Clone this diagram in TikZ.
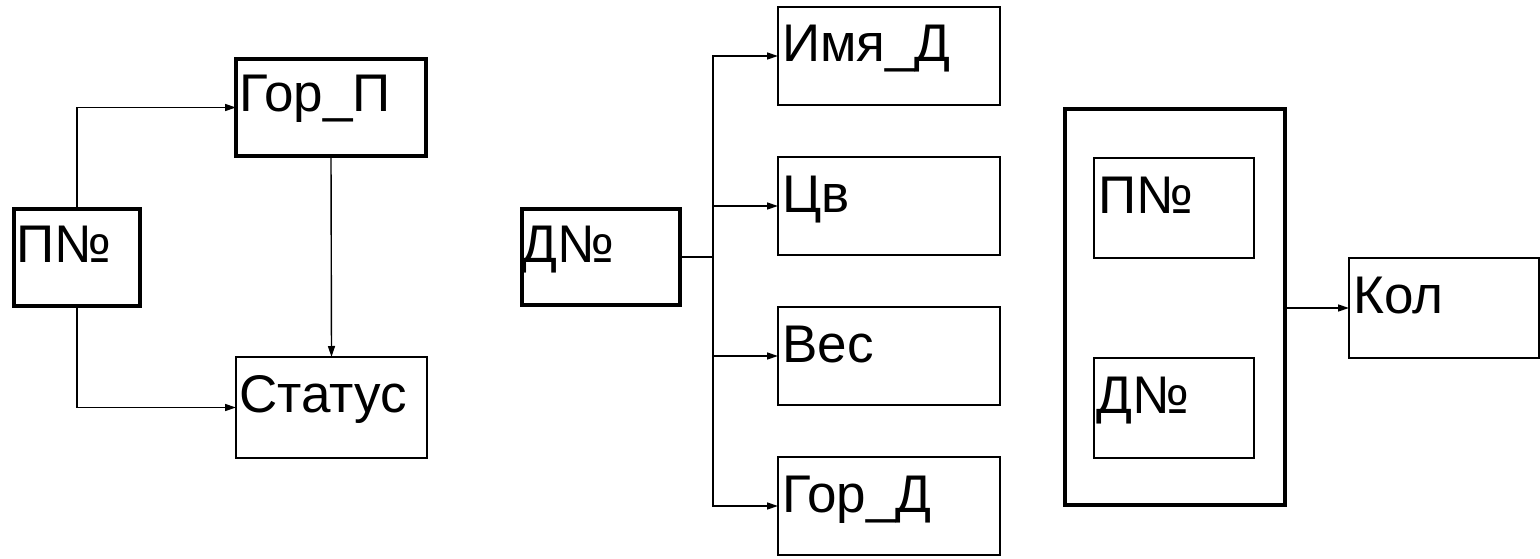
\documentclass[tikz,border=0pt]{standalone}
\usepackage{fontspec}
\setmainfont{Liberation Sans}
\usetikzlibrary{arrows.meta}
\begin{document}
\begin{tikzpicture}[x=1pt,y=-1pt,
  box/.style={draw, line width=1.3pt, inner sep=0pt, outer sep=0pt, anchor=north west},
  thickbox/.style={box, line width=4pt},
  lbl/.style={anchor=base west, inner sep=0pt, font=\fontsize{53}{60}\selectfont},
  arr/.style={line width=1.4pt, -{Triangle[length=11pt,width=7pt]}},
  ln/.style={line width=1.4pt}]
\useasboundingbox (0,0) rectangle (1540,559);
% left group
\node[thickbox, minimum width=126, minimum height=97] (P) at (14,209) {};
\node[thickbox, minimum width=190, minimum height=97] (GorP) at (236,59) {};
\node[box, minimum width=191, minimum height=101] (Stat) at (236,357) {};
\node[lbl] (tP) at ([xshift=2pt,yshift=-53pt]P.north west) {П№};
\node[lbl] (tGorP) at ([xshift=3pt,yshift=-53pt]GorP.north west) {Гор\_П};
\node[lbl] (tStat) at ([xshift=3pt,yshift=-55pt]Stat.north west) {Статус};
\draw[arr] (P.north) |- (GorP.west);
\draw[arr] (P.south) |- (Stat.west);
\draw[arr] (GorP.south) -- (Stat.north);
% middle group
\node[thickbox, minimum width=158, minimum height=96] (D) at (522,209) {};
\node[box, minimum width=222, minimum height=98] (Imya) at (778,7) {};
\node[box, minimum width=222, minimum height=98] (Cv) at (778,157) {};
\node[box, minimum width=222, minimum height=98] (Ves) at (778,307) {};
\node[box, minimum width=222, minimum height=98] (GorD) at (778,457) {};
\node[lbl] (tD) at ([xshift=-1pt,yshift=-53pt]D.north west) {Д№};
\node[lbl] (tImya) at ([xshift=4pt,yshift=-55pt]Imya.north west) {Имя\_Д};
\node[lbl] (tCv) at ([xshift=4pt,yshift=-55pt]Cv.north west) {Цв};
\node[lbl] (tVes) at ([xshift=4pt,yshift=-55pt]Ves.north west) {Вес};
\node[lbl] (tGorD) at ([xshift=4pt,yshift=-55pt]GorD.north west) {Гор\_Д};
\coordinate (br) at (713,257);
\draw[ln] (D.east) -- (br);
\draw[arr] (br) |- (Imya.west);
\draw[arr] (br) |- (Cv.west);
\draw[arr] (br) |- (Ves.west);
\draw[arr] (br) |- (GorD.west);
% right group
\node[thickbox, minimum width=220, minimum height=396] (Outer) at (1065,109) {};
\node[box, minimum width=160, minimum height=100] (iP) at (1094,158) {};
\node[box, minimum width=160, minimum height=100] (iD) at (1094,358) {};
\node[box, minimum width=190, minimum height=100] (Kol) at (1349,258) {};
\node[lbl] (tiP) at ([xshift=4pt,yshift=-55pt]iP.north west) {П№};
\node[lbl] (tiD) at ([xshift=2pt,yshift=-55pt]iD.north west) {Д№};
\node[lbl] (tKol) at ([xshift=4pt,yshift=-55pt]Kol.north west) {Кол};
\draw[arr] (Outer.east |- Kol.west) -- (Kol.west);
\end{tikzpicture}
\end{document}
